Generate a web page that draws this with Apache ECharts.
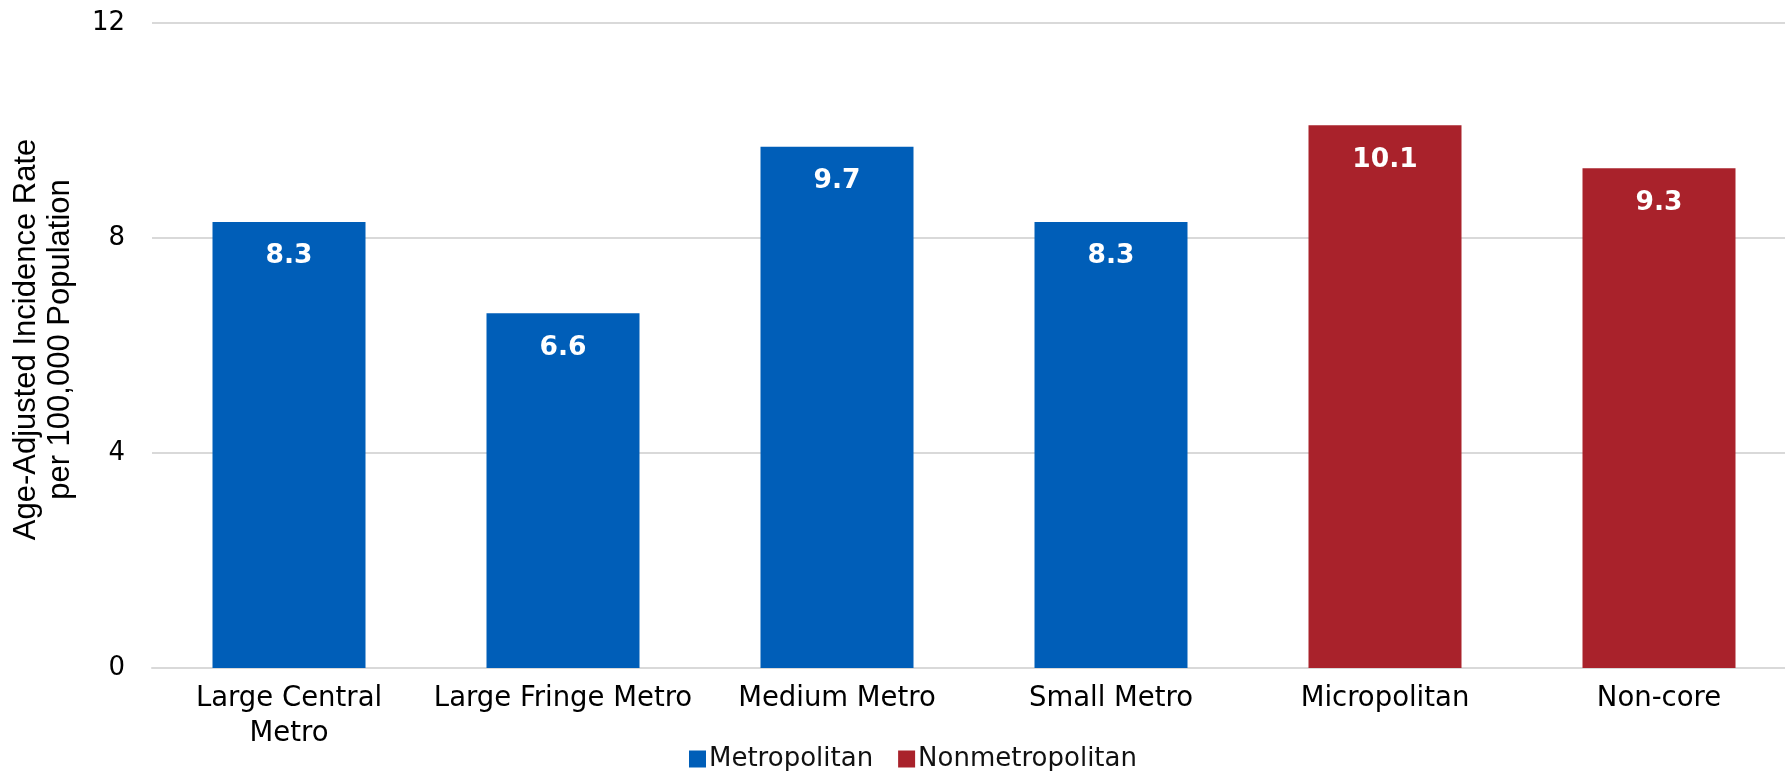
<!DOCTYPE html>
<html>
<head>
<meta charset="utf-8">
<script src="https://cdn.jsdelivr.net/npm/echarts@6/dist/echarts.min.js"></script>
<style>
html,body{margin:0;padding:0;background:#fff;}
#chart{width:1785px;height:771px;}
</style>
</head>
<body>
<div id="chart"></div>
<script>
const categories = ['Large Central\nMetro', 'Large Fringe Metro', 'Medium Metro', 'Small Metro', 'Micropolitan', 'Non-core'];
const metropolitanValues = [8.3, 6.6, 9.7, 8.3, null, null];
const nonmetropolitanValues = [null, null, null, null, 10.1, 9.3];
const yTicks = { min: 0, max: 12, interval: 4 };
const seriesNames = ['Metropolitan', 'Nonmetropolitan'];
const yAxisTitle = 'Age-Adjusted Incidence Rate\nper 100,000 Population';

const chart = echarts.init(document.getElementById('chart'));
const labelCfg = {
  show: true,
  position: 'insideTop',
  distance: 21,
  color: '#fff',
  fontFamily: 'DejaVu Sans',
  fontWeight: 'bold',
  fontSize: 26.5
};
chart.setOption({
  animation: false,
  grid: { left: 152, top: 23, width: 1644, height: 645, outerBoundsMode: 'none' },
  legend: {
    data: seriesNames,
    left: 684, top: 741,
    itemWidth: 17, itemHeight: 17, itemGap: 25,
    icon: 'rect',
    textStyle: { fontFamily: 'DejaVu Sans', fontSize: 26, color: '#111', padding: [0,0,0,-2] }
  },
  xAxis: {
    type: 'category',
    data: categories,
    axisLine: { lineStyle: { color: '#d9d9d9', width: 2 } },
    axisTick: { show: false },
    axisLabel: { interval: 0, margin: 13, fontFamily: 'DejaVu Sans', fontSize: 27.5, lineHeight: 35, color: '#000' }
  },
  yAxis: {
    type: 'value',
    min: yTicks.min, max: yTicks.max, interval: yTicks.interval,
    name: yAxisTitle,
    nameLocation: 'middle',
    nameRotate: 90,
    nameGap: 75,
    nameTextStyle: { fontFamily: 'Liberation Sans', fontSize: 31, lineHeight: 34, color: '#000', padding: [0,0,0,12] },
    axisLine: { show: false },
    axisTick: { show: false },
    splitLine: { lineStyle: { color: '#d9d9d9', width: 2 } },
    axisLabel: { margin: 27, fontFamily: 'DejaVu Sans', fontSize: 26, color: '#000' }
  },
  series: [
    { name: seriesNames[0], type: 'bar', data: metropolitanValues, barWidth: 153, barGap: '-100%',
      itemStyle: { color: '#005EB8' }, label: labelCfg },
    { name: seriesNames[1], type: 'bar', data: nonmetropolitanValues, barWidth: 153,
      itemStyle: { color: '#A9222B' }, label: labelCfg }
  ]
});
</script>
</body>
</html>
